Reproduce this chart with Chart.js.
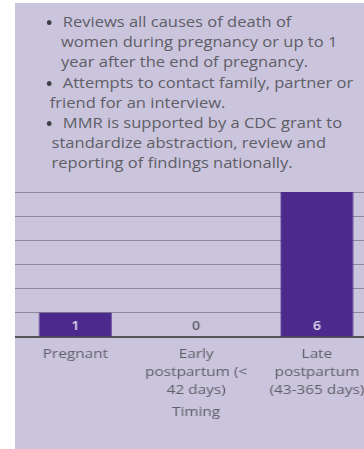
<!DOCTYPE html>
<html>
<head>
<meta charset="utf-8">
<script src="https://cdn.jsdelivr.net/npm/chart.js@4"></script>
<style>
  html, body { margin: 0; padding: 0; background: #fff; width: 364px; height: 449px; overflow: hidden; }
  #panel { position: absolute; left: 15px; top: 3px; width: 312px; height: 446px; background: #cbc4dd; transform: scaleX(1.18); transform-origin: left top; }
  #notes { position: absolute; left: 0; top: 9px; font-family: "Open Sans", sans-serif; font-size: 14px; line-height: 20.2px; color: #5e5e66; white-space: nowrap; }
  #notes div { position: relative; padding-left: 40.5px; }
  #notes .b::before { content: ""; position: absolute; left: 27px; top: 8px; width: 4px; height: 5px; border-radius: 50%; background: #3c3c44; }
  #notes .c { padding-left: 39px; }
  #chartBox { position: absolute; left: 0; top: 177px; width: 307px; height: 241px; }
</style>
</head>
<body>
<div id="panel">
  <div id="notes">
    <div class="b">Reviews all causes of death of</div>
    <div class="c">women during pregnancy or up to 1</div>
    <div class="c">year after the end of pregnancy.</div>
    <div class="b">Attempts to contact family, partner or</div>
    <div class="c" style="padding-left:29.5px">friend for an interview.</div>
    <div class="b">MMR is supported by a CDC grant to</div>
    <div class="c" style="padding-left:31px">standardize abstraction, review and</div>
    <div class="c" style="padding-left:31px">reporting of findings nationally.</div>
  </div>
  <div id="chartBox"><canvas id="grafico"></canvas></div>
</div>
<script>
const categorias = [
  ['Pregnant'],
  ['Early', 'postpartum (<', '42 days)'],
  ['Late', 'postpartum', '(43-365 days)']
];
const muertes = [1, 0, 6];
const ejeY = [0, 1, 2, 3, 4, 5, 6];

const morado = '#4b2a8c';
const gris = '#5e5e66';

// etiquetas de valor al pie de cada barra
const valorEnBarra = {
  id: 'valorEnBarra',
  afterDatasetsDraw(chart) {
    const ctx = chart.ctx;
    const meta = chart.getDatasetMeta(0);
    const base = chart.scales.y.getPixelForValue(0);
    ctx.save();
    ctx.font = '600 12px "Open Sans", sans-serif';
    ctx.textAlign = 'center';
    ctx.textBaseline = 'middle';
    meta.data.forEach((bar, i) => {
      ctx.fillStyle = muertes[i] > 0 ? '#e4def0' : gris;
      ctx.fillText(String(muertes[i]), bar.x, base - 10);
    });
    ctx.restore();
  }
};

new Chart(document.getElementById('grafico').getContext('2d'), {
  type: 'bar',
  data: {
    labels: categorias,
    datasets: [{
      data: muertes,
      backgroundColor: morado,
      borderWidth: 0,
      barPercentage: 0.6,
      categoryPercentage: 1
    }]
  },
  options: {
    responsive: true,
    maintainAspectRatio: false,
    animation: false,
    layout: { padding: { top: 12, left: 0, right: 0, bottom: 0 } },
    plugins: { legend: { display: false }, tooltip: { enabled: false } },
    scales: {
      x: {
        afterFit(scale) { scale.height = 84; },
        grid: { display: false },
        border: { display: true, color: '#555', width: 2 },
        ticks: { color: gris, font: { family: '"Open Sans", sans-serif', size: 13, lineHeight: '18px' }, padding: 0, maxRotation: 0, autoSkip: false },
        title: { display: true, text: 'Timing', color: gris, font: { family: '"Open Sans", sans-serif', size: 13, lineHeight: '18px' }, padding: { top: 2, bottom: 0 } }
      },
      y: {
        min: ejeY[0],
        max: ejeY[ejeY.length - 1],
        afterFit(scale) { scale.width = 0; },
        afterBuildTicks(scale) { scale.ticks = ejeY.map(v => ({ value: v })); },
        grid: { color: '#8c8a99', lineWidth: 1, drawTicks: false },
        border: { display: false },
        ticks: { display: false }
      }
    }
  },
  plugins: [valorEnBarra]
});
</script>
</body>
</html>
